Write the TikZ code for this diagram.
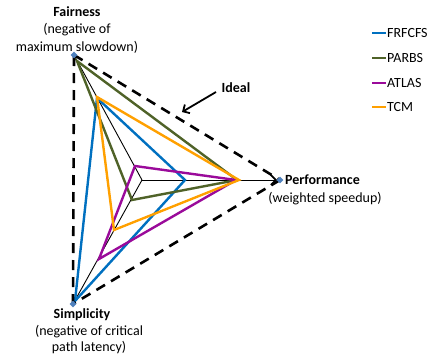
\documentclass[tikz,border=0pt]{standalone}
\usepackage{fontspec}
\setmainfont{Carlito}
\usetikzlibrary{arrows.meta,shapes.geometric}
\definecolor{cblue}{HTML}{0070C0}
\definecolor{cgreen}{HTML}{4F6228}
\definecolor{cpurple}{HTML}{9A0A9A}
\definecolor{corange}{HTML}{FFA000}
\definecolor{cmark}{HTML}{4F81BD}
\begin{document}
\begin{tikzpicture}[x=1pt,y=-1pt,
  axis/.style={black,line width=0.9pt},
  ideal/.style={black,line width=2.6pt,dash pattern=on 10pt off 7pt},
  series/.style={line width=2.4pt,line join=miter},
  apexmark/.style={diamond,fill=cmark,inner sep=0pt,minimum size=7pt},
  lbl/.style={font=\fontsize{14}{16}\selectfont,inner sep=0pt},
  blbl/.style={font=\fontsize{14}{16}\selectfont\bfseries,inner sep=0pt},
  leg/.style={font=\fontsize{14}{16}\selectfont,inner sep=0pt,anchor=west}]
\useasboundingbox (0,0) rectangle (431,356);
% apexes and centre
\coordinate (C) at (142,180);
\coordinate (F) at (74,55);
\coordinate (P) at (280,180);
\coordinate (S) at (73,304);
\coordinate (Ptip) at (277,180);
% axes
\draw[axis] (C) -- (F);
\draw[axis] (C) -- (S);
\draw[axis,-{Straight Barb[length=5pt,width=10pt,line width=1.6pt]}] (C) -- (Ptip);
% series
\coordinate (bF) at (97,98);  \coordinate (bP) at (185,180); \coordinate (bS) at (75,301);
\coordinate (gF) at (77,61);  \coordinate (gP) at (237,180); \coordinate (gS) at (132,200);
\coordinate (pF) at (135,166); \coordinate (pP) at (236,180); \coordinate (pS) at (99,259);
\coordinate (oF) at (97,97);  \coordinate (oP) at (239,180); \coordinate (oS) at (114,230);
\draw[series,cblue] (bF) -- (bP) -- (bS) -- cycle;
\draw[series,cgreen] (gF) -- (gP) -- (gS) -- cycle;
\draw[series,cpurple] (pF) -- (pP) -- (pS) -- cycle;
\draw[series,corange] (oF) -- (oP) -- (oS) -- cycle;
% ideal triangle
\draw[ideal] (F) -- (P);
\draw[ideal] (P) -- (S);
\draw[ideal] (S) -- (F);
% markers
\node[apexmark] (mF) at (F) {};
\node[apexmark] (mP) at (P) {};
\node[apexmark] (mS) at (S) {};
% labels
\node[blbl] (fair1) at (77,12) {Fairness};
\node[lbl] (fair2) at (77,30) {(negative of};
\node[lbl] (fair3) at (77,47) {maximum slowdown)};
\node[blbl,anchor=west] (perf1) at (285,180) {Performance};
\node[lbl] (perf2) at (325,199) {(weighted speedup)};
\node[blbl] (simp1) at (82,315) {Simplicity};
\node[lbl] (simp2) at (89,332) {(negative of critical};
\node[lbl] (simp3) at (89,348) {path latency)};
\node[blbl] (idl) at (236,88) {Ideal};
\coordinate (idlS) at (216,92);
\coordinate (idlT) at (182,112);
\draw[black,line width=1.8pt,-{Straight Barb[length=5pt,width=10pt,line width=1.8pt]}] (idlS) -- (idlT);
% legend
\coordinate (l1a) at (372,33); \coordinate (l1b) at (386,33);
\coordinate (l2a) at (372,58); \coordinate (l2b) at (386,58);
\coordinate (l3a) at (372,83); \coordinate (l3b) at (386,83);
\coordinate (l4a) at (372,107); \coordinate (l4b) at (386,107);
\draw[series,cblue] (l1a) -- (l1b);
\draw[series,cgreen] (l2a) -- (l2b);
\draw[series,cpurple] (l3a) -- (l3b);
\draw[series,corange] (l4a) -- (l4b);
\node[leg] (t1) at (387,33) {FRFCFS};
\node[leg] (t2) at (387,58) {PARBS};
\node[leg] (t3) at (387,83) {ATLAS};
\node[leg] (t4) at (387,107) {TCM};
\end{tikzpicture}
\end{document}
